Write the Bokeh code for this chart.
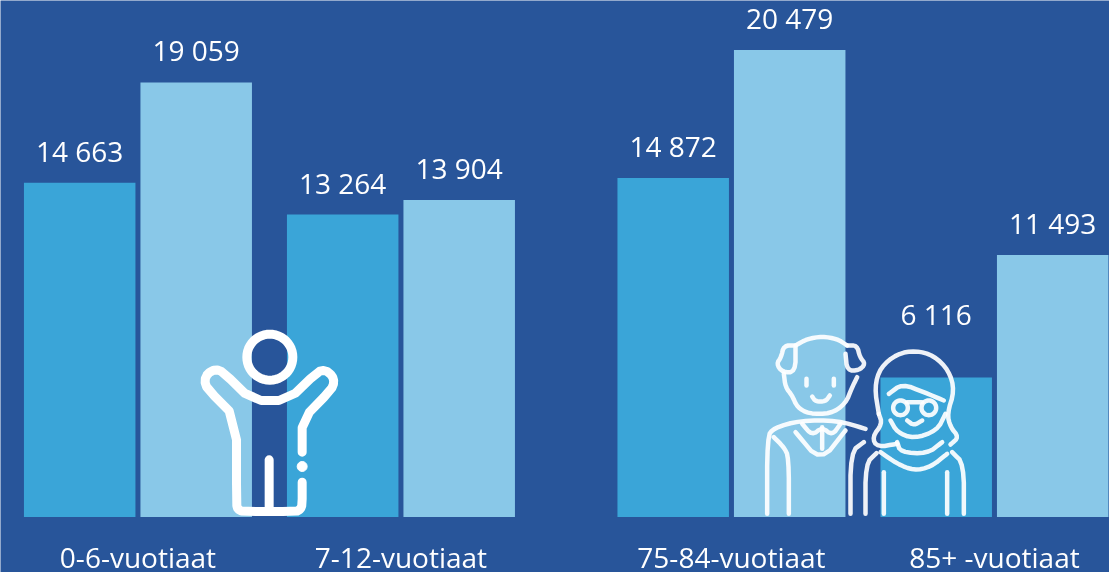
from bokeh.plotting import figure
from bokeh.models import Range1d, ColumnDataSource
from bokeh.core.properties import value
from bokeh.embed import file_html
from bokeh.resources import INLINE
import numpy as np

panels = ["lapset", "lapset", "vanhukset", "vanhukset"]
ages = ["0-6-vuotiaat", "7-12-vuotiaat", "75-84-vuotiaat", "85+ -vuotiaat"]
values_a = [14663, 13264, 14872, 6116]
values_b = [19059, 13904, 20479, 11493]
label_texts_a = ["14 663", "13 264", "14 872", "6 116"]
label_texts_b = ["19 059", "13 904", "20 479", "11 493"]

BG = "#28559a"
C_A = "#3aa5d8"
C_B = "#89c8e8"
FONT = "Open Sans"
FS = "28px"

BAR_W, STEP, GROUP_GAP, PANEL_GAP, START = 111.5, 116.5, 146.5, 214, 79.2
xs, vals, cols, labs, offs, mids = [], [], [], [], [], []
pos = START
for i, ag in enumerate(ages):
    if i:
        pos += PANEL_GAP if panels[i] != panels[i - 1] else GROUP_GAP
    xs += [pos, pos + STEP]
    mids.append(pos + STEP / 2)
    vals += [values_a[i], values_b[i]]
    cols += [C_A, C_B]
    labs += [label_texts_a[i], label_texts_b[i]]
    offs += [-64 if ag.startswith("85") else -32, -32]
    pos += STEP

PX = 0.0228
p = figure(width=1109, height=572, x_range=Range1d(0, 1109),
           y_range=Range1d(-55.5 / PX, 516.5 / PX),
           output_backend="svg", toolbar_location=None,
           min_border_left=0, min_border_right=0, min_border_top=0, min_border_bottom=0,
           background_fill_color=BG, border_fill_color=BG, outline_line_color=None)
p.styles = {"position": "fixed", "left": "0", "top": "0"}
p.axis.visible = False
p.grid.visible = False

src = ColumnDataSource(dict(x=xs, top=vals, color=cols, lab=labs, off=offs))
p.vbar(x="x", top="top", bottom=0, width=BAR_W, fill_color="color", line_color=None, source=src)
p.text(x="x", y="top", text="lab", y_offset="off", text_color="white", text_font=value(FONT),
       text_font_size=FS, text_align="center", text_baseline="middle", source=src)

lab_src = ColumnDataSource(dict(x=mids, y=[-39.5 / PX] * 4, t=ages))
p.text(x="x", y="y", text="t", text_color="white", text_font=value(FONT), text_font_size=FS,
       text_align="center", text_baseline="middle", source=lab_src)

# decorative icons, drawn on a pixel range
p.extra_y_ranges["px"] = Range1d(572, 0)

def smooth(path, rounds=2):
    pts = list(path)
    for _ in range(rounds):
        new = [pts[0]]
        for a, b in zip(pts[:-1], pts[1:]):
            new.append((0.75 * a[0] + 0.25 * b[0], 0.75 * a[1] + 0.25 * b[1]))
            new.append((0.25 * a[0] + 0.75 * b[0], 0.25 * a[1] + 0.75 * b[1]))
        new.append(pts[-1])
        pts = new
    return pts

def draw(paths, ox, oy, width, alpha=1.0):
    px = [[ox + a / 3 for a, b in path] for path in paths]
    py = [[oy + b / 3 for a, b in path] for path in paths]
    p.multi_line(px, py, line_color="white", line_width=width, line_alpha=alpha,
                 line_join="round", line_cap="round", y_range_name="px")

def circle(cx, cy, r):
    t = np.linspace(0, 2 * np.pi, 49)
    return list(zip(cx + r * np.cos(t), cy + r * np.sin(t)))

child = [
    circle(268, 110, 69),
    [(365, 395), (365, 297), (452, 208), (461, 185), (455, 165), (435, 149), (412, 153), (322, 240),
     (215, 240), (128, 155), (105, 146), (82, 158), (72, 180), (80, 205), (168, 293), (168, 552),
     (172, 566), (186, 573), (347, 573), (360, 566), (365, 552), (365, 485)],
    [(266, 418), (266, 573)],
]
draw([smooth(child[1], 1)] + [child[0], child[2]], 180, 320, 9)
p.scatter([180 + 365 / 3], [320 + 438 / 3], size=10, color="white", y_range_name="px")

elders = [
    [(135, 75), (170, 55), (215, 48), (260, 55), (290, 75)],
    [(135, 75), (100, 75), (92, 110), (78, 130), (95, 155), (135, 155), (135, 75)],
    [(290, 75), (320, 75), (328, 110), (345, 130), (325, 150), (290, 150), (285, 100)],
    [(100, 160), (105, 200), (125, 225), (140, 260), (175, 280), (240, 280), (285, 250), (305, 200), (320, 170)],
    [(168, 175), (168, 195)], [(250, 175), (250, 195)],
    [(185, 228), (195, 243), (225, 243), (238, 225)],
    [(50, 580), (50, 350), (70, 322), (150, 300), (260, 300), (345, 325)],
    [(135, 335), (210, 425), (285, 330)],
    [(155, 310), (185, 345), (215, 320), (245, 345), (270, 310)],
    [(215, 320), (215, 385)],
    [(115, 580), (115, 410), (100, 380), (70, 350)],
    [(300, 580), (300, 395), (340, 365)],
    [(345, 580), (345, 430), (378, 398)],
    [(385, 280), (372, 200), (390, 140), (440, 100), (495, 90), (550, 105), (595, 150), (612, 210),
     (590, 280), (600, 320), (625, 350), (600, 372)],
    [(385, 280), (395, 310), (365, 350), (380, 380), (440, 370)],
    [(415, 220), (455, 190), (520, 215), (580, 240)],
    [(470, 245), (515, 245)],
    [(420, 300), (440, 335), (490, 355), (560, 330), (585, 280)],
    [(470, 300), (490, 315), (515, 300)],
    [(440, 365), (450, 395), (530, 400), (575, 365)],
    [(390, 395), (440, 430), (490, 450), (540, 440), (590, 400)],
    [(640, 580), (640, 430), (605, 395)],
    [(400, 580), (400, 455)], [(590, 580), (590, 455)],
]
draw([smooth(e) for e in elders] + [circle(450, 262, 22), circle(535, 262, 22)], 750, 320, 4.5, 0.92)

open("out.html", "w").write(file_html(p, INLINE))
